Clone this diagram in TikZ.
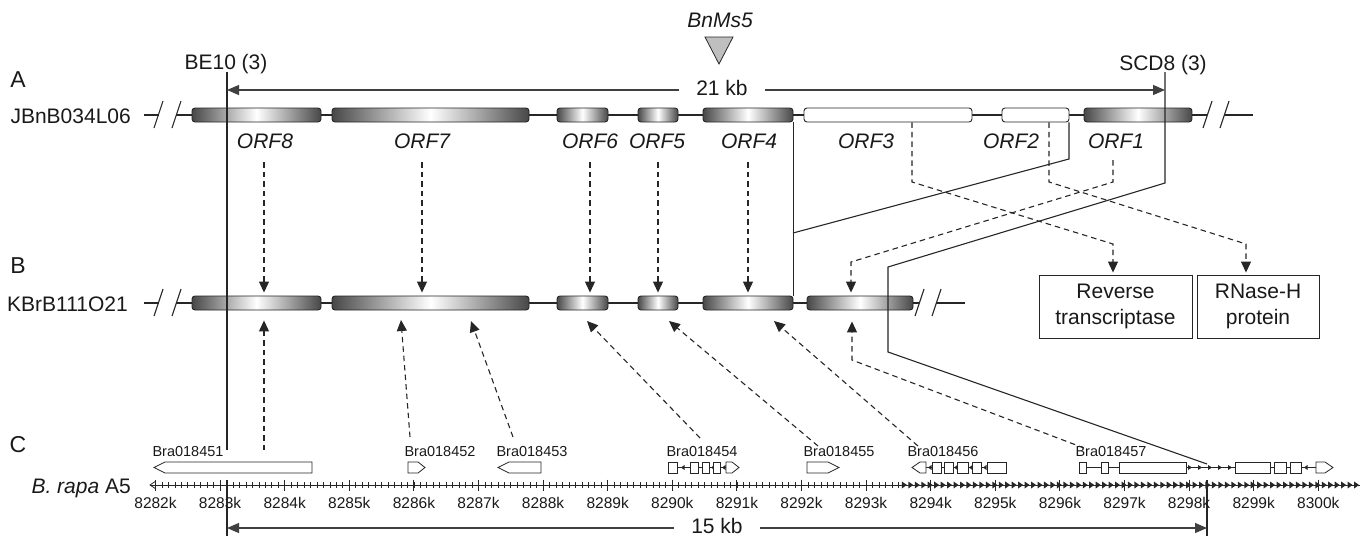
\documentclass[tikz,border=0pt]{standalone}
\usepackage{fontspec}
\setmainfont{Liberation Sans}
\usetikzlibrary{arrows.meta}
\begin{document}
\begin{tikzpicture}[x=1pt,y=-1pt,
  every node/.style={inner sep=0pt, text=black!90},
  panel/.style={font=\fontsize{23}{27}\selectfont},
  big/.style={font=\fontsize{21}{25}\selectfont},
  orflab/.style={font=\fontsize{21}{25}\selectfont\itshape, anchor=base},
  genelab/.style={font=\fontsize{14.5}{16}\selectfont, anchor=base},
  ticklab/.style={font=\fontsize{15.5}{18}\selectfont, anchor=base},
  orfbar/.style={draw=black!85, line width=0.9pt, rounded corners=3pt, minimum height=14pt,
     left color=black!72, right color=black!72, middle color=white},
  whitebar/.style={draw=black!85, line width=0.9pt, rounded corners=3pt, minimum height=14pt, fill=white},
  backbone/.style={line width=2pt, black!85},
  slash/.style={line width=1.1pt, black!85},
  solidcon/.style={line width=1.1pt, black!85},
  darr/.style={line width=1.1pt, black!85, dash pattern=on 5.5pt off 4pt, -{Triangle[length=11pt,width=10pt]}},
  sizearr/.style={line width=1.1pt, black!75, {Triangle[length=12pt,width=10pt]}-{Triangle[length=12pt,width=10pt]}},
  gene/.style={draw=black!85, line width=0.8pt, fill=white},
  intron/.style={line width=0.8pt, black!85},
  protbox/.style={draw=black!85, line width=0.9pt, align=center, font=\fontsize{21}{26}\selectfont},
]
\useasboundingbox (0,0) rectangle (1365,536);

% ---------- panel letters and clone names ----------
\node[panel] (labA) at (18,80) {A};
\node[panel] (labB) at (18,266) {B};
\node[panel] (labC) at (18,445) {C};
\node[big, anchor=east] (cloneA) at (131,116) {JBnB034L06};
\node[big, anchor=east] (cloneB) at (128,304) {KBrB111O21};
\node[big, anchor=east] (chrom) at (131,488) {\textit{B. rapa} A5};

% ---------- markers ----------
\node[big, anchor=base] (be10) at (226,69) {BE10 (3)};
\node[big, anchor=base] (scd8) at (1163,70) {SCD8 (3)};
\node[orflab] (bnms5) at (720,27) {BnMs5};
\draw[fill=black!25, draw=black!85, line width=0.8pt] (705,37) -- (733,37) -- (719,64) -- cycle;

% ---------- backbones ----------
\draw[backbone] (144,115) -- (159,115);
\draw[backbone] (176,115) -- (1207,115);
\draw[backbone] (1224,115) -- (1253,115);
\draw[slash] (154,128) -- (163,101);
\draw[slash] (172,128) -- (181,101);
\draw[slash] (1203,128) -- (1212,101);
\draw[slash] (1220,128) -- (1229,101);

\draw[backbone] (144,303) -- (159,303);
\draw[backbone] (176,303) -- (919,303);
\draw[backbone] (936,303) -- (965,303);
\draw[slash] (154,316) -- (163,289);
\draw[slash] (172,316) -- (181,289);
\draw[slash] (915,316) -- (924,289);
\draw[slash] (932,316) -- (941,289);

% ---------- ORF bars row A ----------
\node[orfbar, minimum width=129pt] (a8) at (256.5,115) {};
\node[orfbar, minimum width=197pt] (a7) at (430.5,115) {};
\node[orfbar, minimum width=51pt] (a6) at (582.5,115) {};
\node[orfbar, minimum width=40pt] (a5) at (658,115) {};
\node[orfbar, minimum width=90pt] (a4) at (748,115) {};
\node[whitebar, minimum width=168pt] (a3) at (888,115) {};
\node[whitebar, minimum width=67pt] (a2) at (1035.5,115) {};
\node[orfbar, minimum width=108pt] (a1) at (1138,115) {};

% ---------- ORF bars row B ----------
\node[orfbar, minimum width=129pt] (b8) at (256.5,303) {};
\node[orfbar, minimum width=197pt] (b7) at (430.5,303) {};
\node[orfbar, minimum width=51pt] (b6) at (582.5,303) {};
\node[orfbar, minimum width=40pt] (b5) at (658,303) {};
\node[orfbar, minimum width=90pt] (b4) at (748,303) {};
\node[orfbar, minimum width=106pt] (b1) at (860,303) {};

% ---------- ORF labels ----------
\node[orflab] (l8) at (265,148) {ORF8};
\node[orflab] (l7) at (422,148) {ORF7};
\node[orflab] (l6) at (590,148) {ORF6};
\node[orflab] (l5) at (657,148) {ORF5};
\node[orflab] (l4) at (749,148) {ORF4};
\node[orflab] (l3) at (866,148) {ORF3};
\node[orflab] (l2) at (1011,148) {ORF2};
\node[orflab] (l1) at (1116,148) {ORF1};

% ---------- protein boxes ----------
\node[protbox, minimum width=153pt, minimum height=63pt] (rt) at (1115.5,306.5) {Reverse\\transcriptase};
\node[protbox, minimum width=122pt, minimum height=63pt] (rn) at (1258,306.5) {RNase-H\\protein};

% ---------- A -> B dashed arrows ----------
\coordinate (d8) at (264,162);
\coordinate (d7) at (422,162);
\coordinate (d6) at (590,162);
\coordinate (d5) at (658,162);
\coordinate (d4) at (748,162);
\draw[darr, shorten >=3pt] (d8) -- (d8 |- b8.north);
\draw[darr, shorten >=3pt] (d7) -- (d7 |- b7.north);
\draw[darr, shorten >=3pt] (d6) -- (d6 |- b6.north);
\draw[darr, shorten >=3pt] (d5) -- (d5 |- b5.north);
\draw[darr, shorten >=3pt] (d4) -- (d4 |- b4.north);

% ORF3 -> reverse transcriptase
\coordinate (o3a) at (912,182);
\coordinate (o3b) at (1113,244);
\draw[darr, shorten >=2pt] (o3a |- a3.south) -- (o3a) -- (o3b) -- (o3b |- rt.north);
% ORF2 -> RNase-H
\coordinate (o2a) at (1049,182);
\coordinate (o2b) at (1246,244);
\draw[darr, shorten >=2pt] (o2a |- a2.south) -- (o2a) -- (o2b) -- (o2b |- rn.north);
% ORF1 A -> ORF1 B
\coordinate (o1s) at (1113,160);
\coordinate (o1a) at (1113,182);
\coordinate (o1b) at (851,262);
\draw[darr, shorten >=3pt] (o1s) -- (o1a) -- (o1b) -- (o1b |- b1.north);

% ---------- solid alignment lines ----------
\draw[solidcon] (a4.south east) -- (b4.north east);
\coordinate (p1) at (793,233);
\coordinate (p2) at (1069,159);
\draw[solidcon] (p1) -- (p2) -- (p2 |- a2.south);

\coordinate (scdtop) at (1165,72);
\coordinate (q1) at (1165,183);
\coordinate (q2) at (888,267);
\coordinate (q3) at (888,352);
\coordinate (q4) at (1207,464);
\draw[solidcon] (scdtop) -- (q1) -- (q2) -- (q3) -- (q4);
\coordinate (q5) at (1207,480);
\coordinate (q6) at (1207,536);
\draw[solidcon] (q5) -- (q6);

\coordinate (be10top) at (227,72);
\coordinate (be10mid) at (227,450);
\coordinate (be10low) at (227,480);
\coordinate (be10bot) at (227,536);
\draw[solidcon] (be10top) -- (be10mid);
\draw[solidcon] (be10low) -- (be10bot);

% ---------- size arrows ----------
\draw[sizearr] (be10top |- 0,90) -- (scdtop |- 0,90);
\node[big, anchor=base, fill=white, inner xsep=17pt, inner ysep=2pt] (kb21) at (722,95) {21 kb};
\draw[sizearr] (be10bot |- 0,528) -- (q6 |- 0,528);
\node[big, anchor=base, fill=white, inner xsep=17pt, inner ysep=0pt] (kb15) at (717,533) {15 kb};

% ---------- ruler ----------
\draw[line width=0.9pt, black!85] (150,485) -- (1360,485);
\draw[line width=0.8pt, black!85] (156,481) -- (150,485) -- (156,489);
\foreach \i in {0,...,186}{
  \pgfmathsetmacro\xx{155.5+6.46*\i}
  \ifnum\i<116
    \draw[line width=0.7pt, black!85] (\xx,482) -- (\xx,488);
  \else
    \fill[black!85] (\xx-3,481.5) -- (\xx+2,485) -- (\xx-3,488.5) -- cycle;
  \fi
}
\foreach \k in {0,...,18}{
  \pgfmathsetmacro\xx{155.5+64.6*\k}
  \pgfmathtruncatemacro\lab{8282+\k}
  \draw[line width=0.9pt, black!85] (\xx,479.5) -- (\xx,490.5);
  \node[ticklab] (tk\k) at (\xx,508) {\lab k};
}

% ---------- genes ----------
\node[genelab] (g51) at (188,456) {Bra018451};
\node[genelab] (g52) at (440,456) {Bra018452};
\node[genelab] (g53) at (532,456) {Bra018453};
\node[genelab] (g54) at (702,456) {Bra018454};
\node[genelab] (g55) at (839,456) {Bra018455};
\node[genelab] (g56) at (943,456) {Bra018456};
\node[genelab] (g57) at (1111,456) {Bra018457};

% Bra018451
\draw[gene] (154,467.5) -- (165,462) -- (312,462) -- (312,473) -- (165,473) -- cycle;
% Bra018452
\draw[gene] (408,462) -- (418,462) -- (425,467.5) -- (418,473) -- (408,473) -- cycle;
% Bra018453
\draw[gene] (498,467.5) -- (509,462) -- (541,462) -- (541,473) -- (509,473) -- cycle;
% Bra018455
\draw[gene] (807,462) -- (828,462) -- (839,467.5) -- (828,473) -- (807,473) -- cycle;
% Bra018454
\draw[intron] (677,467.5) -- (726,467.5);
\foreach \t in {681,711,722}{\fill[black!85] (\t,467.5) -- (\t+3.5,465) -- (\t+3.5,470) -- cycle;}
\draw[gene] (668,462) rectangle (677,473);
\draw[gene] (690,462) rectangle (698,473);
\draw[gene] (702,462) rectangle (709,473);
\draw[gene] (713,462) rectangle (720,473);
\draw[gene] (726,462) -- (732,462) -- (739,467.5) -- (732,473) -- (726,473) -- cycle;
% Bra018456
\draw[intron] (920,467.5) -- (986,467.5);
\foreach \t in {928,954,969,983}{\fill[black!85] (\t,467.5) -- (\t+3.5,465) -- (\t+3.5,470) -- cycle;}
\draw[gene] (912,467.5) -- (920,462) -- (926,462) -- (926,473) -- (920,473) -- cycle;
\draw[gene] (932,462) rectangle (941,473);
\draw[gene] (944,462) rectangle (953,473);
\draw[gene] (957,462) rectangle (968,473);
\draw[gene] (972,462) rectangle (981,473);
\draw[gene] (987,462) rectangle (1006,473);
% Bra018457
\draw[intron] (1086,467.5) -- (1316,467.5);
\foreach \t in {1190,1200,1210,1220,1230}{\fill[black!85] (\t+2,467.5) -- (\t-2,465) -- (\t-2,470) -- cycle;}
\fill[black!85] (1304,467.5) -- (1307.5,465) -- (1307.5,470) -- cycle;
\draw[gene] (1079,462) rectangle (1086,473);
\draw[gene] (1101,462) rectangle (1108,473);
\draw[gene] (1119,462) rectangle (1186,473);
\draw[gene] (1235,462) rectangle (1270,473);
\draw[gene] (1274,462) rectangle (1286,473);
\draw[gene] (1290,462) rectangle (1301,473);
\draw[gene] (1316,462) -- (1325,462) -- (1333,467.5) -- (1325,473) -- (1316,473) -- cycle;

% ---------- C -> B dashed arrows ----------
\coordinate (c8) at (264,450);
\coordinate (c7a) at (410,437);
\coordinate (c7b) at (513,437);
\coordinate (c6) at (700,438);
\coordinate (c5) at (818,446);
\coordinate (c4) at (918,446);
\coordinate (c1) at (1084,448);
\coordinate (t7a) at (401,320);
\coordinate (t7b) at (471,321);
\coordinate (t6) at (587,321);
\coordinate (t5) at (669,321);
\coordinate (t4) at (774,321);
\coordinate (r1) at (852,360);
\draw[darr, shorten >=10pt] (c8) -- (c8 |- b8.south);
\draw[darr] (c7a) -- (t7a);
\draw[darr] (c7b) -- (t7b);
\draw[darr] (c6) -- (t6);
\draw[darr] (c5) -- (t5);
\draw[darr] (c4) -- (t4);
\draw[darr, shorten >=11pt] (c1) -- (r1) -- (r1 |- b1.south);

\end{tikzpicture}
\end{document}
